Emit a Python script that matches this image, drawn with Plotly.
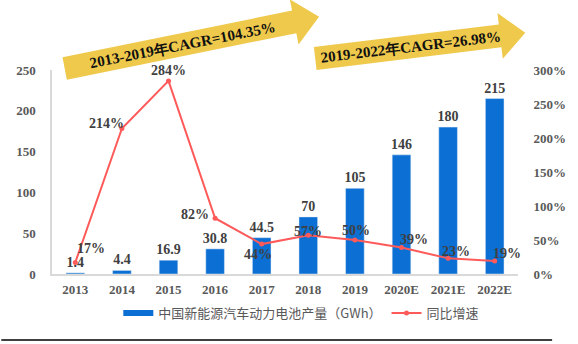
import math
import plotly.graph_objects as go

# ---- data ----
years = ["2013", "2014", "2015", "2016", "2017", "2018", "2019", "2020E", "2021E", "2022E"]
output_gwh = [1.4, 4.4, 16.9, 30.8, 44.5, 70, 105, 146, 180, 215]
growth = [0.17, 2.14, 2.84, 0.82, 0.44, 0.57, 0.50, 0.39, 0.23, 0.19]
growth_labels = ["17%", "214%", "284%", "82%", "44%", "57%", "50%", "39%", "23%", "19%"]
bar_labels = ["1.4", "4.4", "16.9", "30.8", "44.5", "70", "105", "146", "180", "215"]
left_ticks = [0, 50, 100, 150, 200, 250]
right_ticks = [0, 0.5, 1.0, 1.5, 2.0, 2.5, 3.0]
right_tick_text = ["0%", "50%", "100%", "150%", "200%", "250%", "300%"]
bar_name = "中国新能源汽车动力电池产量（GWh）"
line_name = "同比增速"
cagr_texts = ["2013-2019年CAGR=104.35%", "2019-2022年CAGR=26.98%"]

# ---- style ----
W, H = 578, 344
ML, MR, MT, MB = 52, 48, 70, 70
PW, PH = W - ML - MR, H - MT - MB
BLUE = "#0B6FD3"
RED = "#FF5A5A"
YELLOW = "#EFC94C"
GRAY = "#595959"
DARK = "#404040"
SERIF = "Liberation Serif"
CJK = "Noto Sans CJK SC"
label_offsets = [(16, 14), (-15, 5), (0, 10), (-20, 4), (-4, -10),
                 (0, 4), (1, 10), (12, 8), (8, 7), (12, 8)]


def b(s):
    return f"<b>{s}</b>"


def px2paper(x, y):
    return (x - ML) / PW, (MT + PH - y) / PH


def arrow_path(x0, y0, length, angle_deg, body_half, head_half, head_len):
    ang = math.radians(angle_deg)
    ux, uy = math.cos(ang), -math.sin(ang)
    nx, ny = math.sin(ang), math.cos(ang)
    bl = length - head_len
    pts = [
        (x0 - nx * body_half, y0 - ny * body_half),
        (x0 + ux * bl - nx * body_half, y0 + uy * bl - ny * body_half),
        (x0 + ux * bl - nx * head_half, y0 + uy * bl - ny * head_half),
        (x0 + ux * length, y0 + uy * length),
        (x0 + ux * bl + nx * head_half, y0 + uy * bl + ny * head_half),
        (x0 + ux * bl + nx * body_half, y0 + uy * bl + ny * body_half),
        (x0 + nx * body_half, y0 + ny * body_half),
    ]
    p = [px2paper(x, y) for x, y in pts]
    return "M " + " L ".join(f"{u:.5f},{v:.5f}" for u, v in p) + " Z"


fig = go.Figure()
fig.add_trace(go.Bar(
    x=years, y=output_gwh, name=bar_name, marker_color=BLUE, showlegend=False,
    text=[b(t) for t in bar_labels], textposition="outside", cliponaxis=False,
    constraintext="none",
    textfont=dict(family=SERIF, size=14, color=DARK),
))
fig.add_trace(go.Scatter(
    x=[years[0]], y=[None], mode="lines", name=bar_name,
    line=dict(color=BLUE, width=6),
))
fig.add_trace(go.Scatter(
    x=years, y=growth, name=line_name, yaxis="y2", mode="lines+markers",
    line=dict(color=RED, width=2), marker=dict(color=RED, size=5),
    cliponaxis=False,
))

annotations = []
# category index used as x (numeric-looking category names would be read as indices)
for i, (g, lab, (dx, dy)) in enumerate(zip(growth, growth_labels, label_offsets)):
    annotations.append(dict(
        x=i, y=g, xref="x", yref="y2", text=b(lab), showarrow=False,
        xshift=dx, yshift=dy,
        font=dict(family=SERIF, size=14, color=DARK),
    ))

arrows = [
    dict(x0=65, y0=68.5, length=266, angle=11.2, text_at=123),
    dict(x0=322, y0=58.5, length=217, angle=6.8, text_at=98),
]
shapes = []
for arr, txt in zip(arrows, cagr_texts):
    shapes.append(dict(
        type="path", xref="paper", yref="paper", layer="above",
        path=arrow_path(arr["x0"], arr["y0"], arr["length"], arr["angle"], 11.5, 23, 26),
        fillcolor=YELLOW, line=dict(width=0),
    ))
    ang = math.radians(arr["angle"])
    cx = arr["x0"] + math.cos(ang) * arr["text_at"]
    cy = arr["y0"] - math.sin(ang) * arr["text_at"]
    tx, ty = px2paper(cx, cy)
    annotations.append(dict(
        x=tx, y=ty, xref="paper", yref="paper", text=b(txt), showarrow=False,
        textangle=-arr["angle"], xanchor="center", yanchor="middle",
        font=dict(family=SERIF, size=15, color="#111111"),
    ))

bx0, by = px2paper(0, 340)
bx1, _ = px2paper(565, 340)
shapes.append(dict(type="line", xref="paper", yref="paper", x0=bx0, x1=bx1, y0=by, y1=by,
                   line=dict(color="#000000", width=1.5)))

tickfont = dict(family=SERIF, size=13, color=GRAY)
fig.update_layout(
    width=W, height=H,
    margin=dict(l=ML, r=MR, t=MT, b=MB),
    paper_bgcolor="white", plot_bgcolor="white",
    bargap=0.6,
    showlegend=True,
    legend=dict(orientation="h", x=0.535, xanchor="center", y=(MT + PH - 313) / PH,
                yanchor="middle", font=dict(family=CJK, size=13, color=GRAY),
                bgcolor="rgba(0,0,0,0)"),
    xaxis=dict(type="category", range=[-0.5, len(years) - 0.5], autorange=False,
               tickmode="array", tickvals=years, ticktext=[b(y) for y in years],
               showline=True, linecolor="#D9D9D9", linewidth=1.5, showgrid=False,
               ticks="outside", ticklen=3, tickcolor="rgba(0,0,0,0)", tickfont=tickfont),
    yaxis=dict(range=[0, 250], autorange=False, tickmode="array", tickvals=left_ticks,
               ticktext=[b(v) for v in left_ticks],
               showline=True, linecolor="#D9D9D9", linewidth=1.5,
               showgrid=False, zeroline=False, ticks="outside", ticklen=12,
               tickcolor="rgba(0,0,0,0)", tickfont=tickfont),
    yaxis2=dict(range=[0, 3], autorange=False, tickmode="array", tickvals=right_ticks,
                ticktext=[b(t) for t in right_tick_text], overlaying="y", side="right",
                showline=False, showgrid=False, zeroline=False, ticks="outside", ticklen=12,
                tickcolor="rgba(0,0,0,0)", tickfont=tickfont),
    shapes=shapes,
    annotations=annotations,
)

fig.write_html("out.html")
